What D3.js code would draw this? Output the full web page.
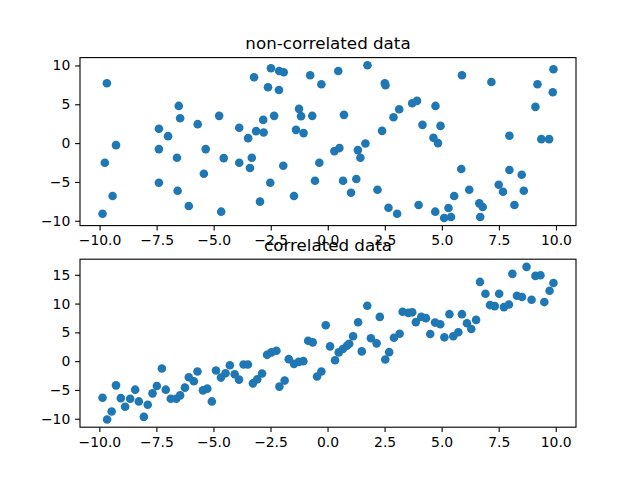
<!DOCTYPE html>
<html>
<head>
<meta charset="utf-8">
<script src="https://cdn.jsdelivr.net/npm/d3@7"></script>
<style>
  body { margin: 0; background: #fff; }
  svg { display: block; }
  text { font-family: "DejaVu Sans", sans-serif; }
</style>
</head>
<body>
<svg id="chart" width="640" height="480"></svg>
<script>
// ---------- data ----------
const titles = ["non-correlated data", "correlated data"];

const uncorrX = [
  -9.68,-6.53,-6.47,-4.76,-5.70,-7.40,-7.00,-3.88,-9.28,-7.40,-5.35,-9.77,-6.61,-4.56,-3.88,-5.43,-7.40,-6.58,-9.43,-6.09,-9.87,-4.67,
  -3.23,-2.49,-2.13,-1.93,-2.62,-2.14,-0.77,-0.28,0.46,1.74,2.50,2.53,3.13,2.88,-1.26,-1.17,-0.68,-2.35,-2.83,0.71,-3.14,-2.81,-3.49,
  -1.39,-1.06,2.38,0.29,0.51,1.32,1.65,1.43,-3.33,-3.41,-1.95,-0.37,-2.52,-0.56,0.67,1.25,1.02,2.18,-1.48,-2.97,2.66,3.04,
  3.70,3.91,5.88,7.17,4.72,4.15,4.94,4.63,4.83,7.96,9.36,9.70,9.89,9.19,9.86,9.10,5.85,7.96,8.50,7.49,7.68,8.59,6.20,5.54,3.98,
  5.29,4.71,5.10,5.40,6.64,6.79,8.18,6.68
];
const uncorrY = [
  7.71,4.79,3.21,3.51,2.44,1.84,0.90,1.97,-0.26,-0.77,-0.77,-2.53,-1.89,-1.93,-2.53,-3.95,-5.10,-6.13,-6.81,-8.10,-9.09,-8.83,
  8.48,9.64,9.29,9.13,7.20,6.85,8.74,7.58,9.29,10.03,7.71,7.46,4.37,3.34,4.41,3.47,3.51,3.51,2.99,3.64,1.54,1.36,0.64,
  1.71,1.29,1.58,-1.03,-0.64,-0.90,-0.05,-1.89,-1.89,-3.21,-2.92,-2.53,-5.10,-4.85,-4.85,-4.63,-6.39,-6.00,-6.81,-7.54,-8.32,-9.09,
  5.14,5.44,8.74,7.88,4.79,2.35,2.22,0.68,0.00,0.94,0.51,0.51,9.51,7.58,6.56,4.67,-3.34,-3.47,-4.07,-5.36,-6.26,-6.13,-6.00,-6.81,-7.97,
  -8.35,-8.83,-9.64,-9.51,-7.76,-8.23,-7.97,-9.51
];

const corrX = [
  -9.86,-9.46,-9.66,-9.27,-9.06,-8.87,-8.65,-8.43,-8.27,-8.05,-7.88,-7.67,-7.48,-7.26,-7.09,-6.87,-6.63,-6.46,-6.25,-6.08,-5.86,-5.70,
  -5.46,-5.27,-5.07,-4.89,-4.67,-4.47,-4.28,-4.07,-3.88,-3.68,-3.49,
  -3.27,-3.08,-2.87,-2.65,-2.46,-2.24,-2.11,-1.88,-1.70,-1.47,-1.26,-1.06,-0.85,-0.65,-0.46,-0.27,-0.08,0.11,0.33,0.49,0.67,0.85,0.95,
  1.12,1.34,1.50,1.74,1.90,2.15,2.29,2.53,2.70,2.91,3.16,3.29,3.54,3.71,3.87,
  4.11,4.31,4.50,4.71,4.94,5.12,5.51,5.73,5.34,5.89,6.11,6.30,6.51,6.68,6.92,7.12,7.33,7.52,7.73,7.95,8.10,8.30,8.52,8.72,8.94,
  9.11,9.33,9.50,9.73,9.90
];
const corrY = [
  -6.35,-8.74,-10.14,-4.20,-6.42,-7.92,-6.52,-4.95,-6.99,-9.67,-7.57,-5.59,-4.32,-1.28,-4.95,-6.52,-6.52,-5.94,-4.60,-2.80,-3.50,-1.80,
  -5.07,-4.77,-6.99,-1.63,-2.85,-2.10,-0.70,-2.27,-3.20,-0.58,-0.58,
  -3.85,-3.15,-2.15,1.10,1.52,1.80,-4.42,-3.37,0.35,-0.47,-0.12,0.00,3.55,3.27,-2.67,-1.80,6.24,2.57,0.17,1.52,2.10,2.67,3.02,
  4.32,6.77,1.70,9.62,3.97,3.09,7.69,0.30,1.57,4.07,4.77,8.57,8.39,8.48,6.78,
  7.69,7.47,4.72,6.70,6.42,4.14,4.32,5.02,8.16,8.16,6.59,5.59,7.17,13.76,11.71,9.74,9.56,11.71,9.39,9.84,15.16,11.36,11.14,16.38,10.66,
  14.81,14.91,10.26,12.24,13.58
];

const xTicks = [-10, -7.5, -5, -2.5, 0, 2.5, 5, 7.5, 10];
const yTicksTop = [-10, -5, 0, 5, 10];
const yTicksBottom = [-10, -5, 0, 5, 10, 15];

// ---------- layout ----------
const W = 640, H = 480;
const left = 80, right = 576;
const panels = [
  { top: 57.6, bottom: 225.6, xs: uncorrX, ys: uncorrY, yTicks: yTicksTop, title: titles[0] },
  { top: 259.2, bottom: 427.2, xs: corrX, ys: corrY, yTicks: yTicksBottom, title: titles[1] }
];
const color = "#1f77b4";
const tickLen = 4.86, tickPad = 4.86;
const fmtMinus = s => s.replace("-", "\u2212");

const svg = d3.select("#chart");

function padded(vals) {
  const [a, b] = d3.extent(vals);
  const p = (b - a) * 0.05;
  return [a - p, b + p];
}

panels.forEach(p => {
  const x = d3.scaleLinear().domain(padded(p.xs)).range([left, right]);
  const y = d3.scaleLinear().domain(padded(p.ys)).range([p.bottom, p.top]);
  const g = svg.append("g");

  // points
  g.append("g").selectAll("circle")
    .data(p.xs.map((v, i) => [v, p.ys[i]]))
    .join("circle")
    .attr("cx", d => x(d[0]))
    .attr("cy", d => y(d[1]))
    .attr("r", 4.3)
    .attr("fill", color);

  // axes
  const xa = g.append("g").attr("transform", `translate(0,${p.bottom})`)
    .call(d3.axisBottom(x).tickValues(xTicks).tickSize(tickLen).tickPadding(tickPad)
      .tickFormat(d => fmtMinus(d3.format(".1f")(d))));
  const ya = g.append("g").attr("transform", `translate(${left},0)`)
    .call(d3.axisLeft(y).tickValues(p.yTicks).tickSize(tickLen).tickPadding(tickPad)
      .tickFormat(d => fmtMinus(d3.format("d")(d))));
  [xa, ya].forEach(a => {
    a.select(".domain").remove();
    a.selectAll("line").attr("stroke", "#000").attr("stroke-width", 1.1);
    a.selectAll("text").attr("fill", "#000").style("font-size", "13.9px")
      .style("font-family", "'DejaVu Sans', sans-serif");
  });

  // frame
  g.append("rect")
    .attr("x", left).attr("y", p.top)
    .attr("width", right - left).attr("height", p.bottom - p.top)
    .attr("fill", "none").attr("stroke", "#000").attr("stroke-width", 1.1);

  // title
  g.append("text")
    .attr("x", (left + right) / 2).attr("y", p.top - 8.3)
    .attr("text-anchor", "middle")
    .style("font-size", "16.7px")
    .attr("fill", "#000")
    .text(p.title);
});
</script>
</body>
</html>
